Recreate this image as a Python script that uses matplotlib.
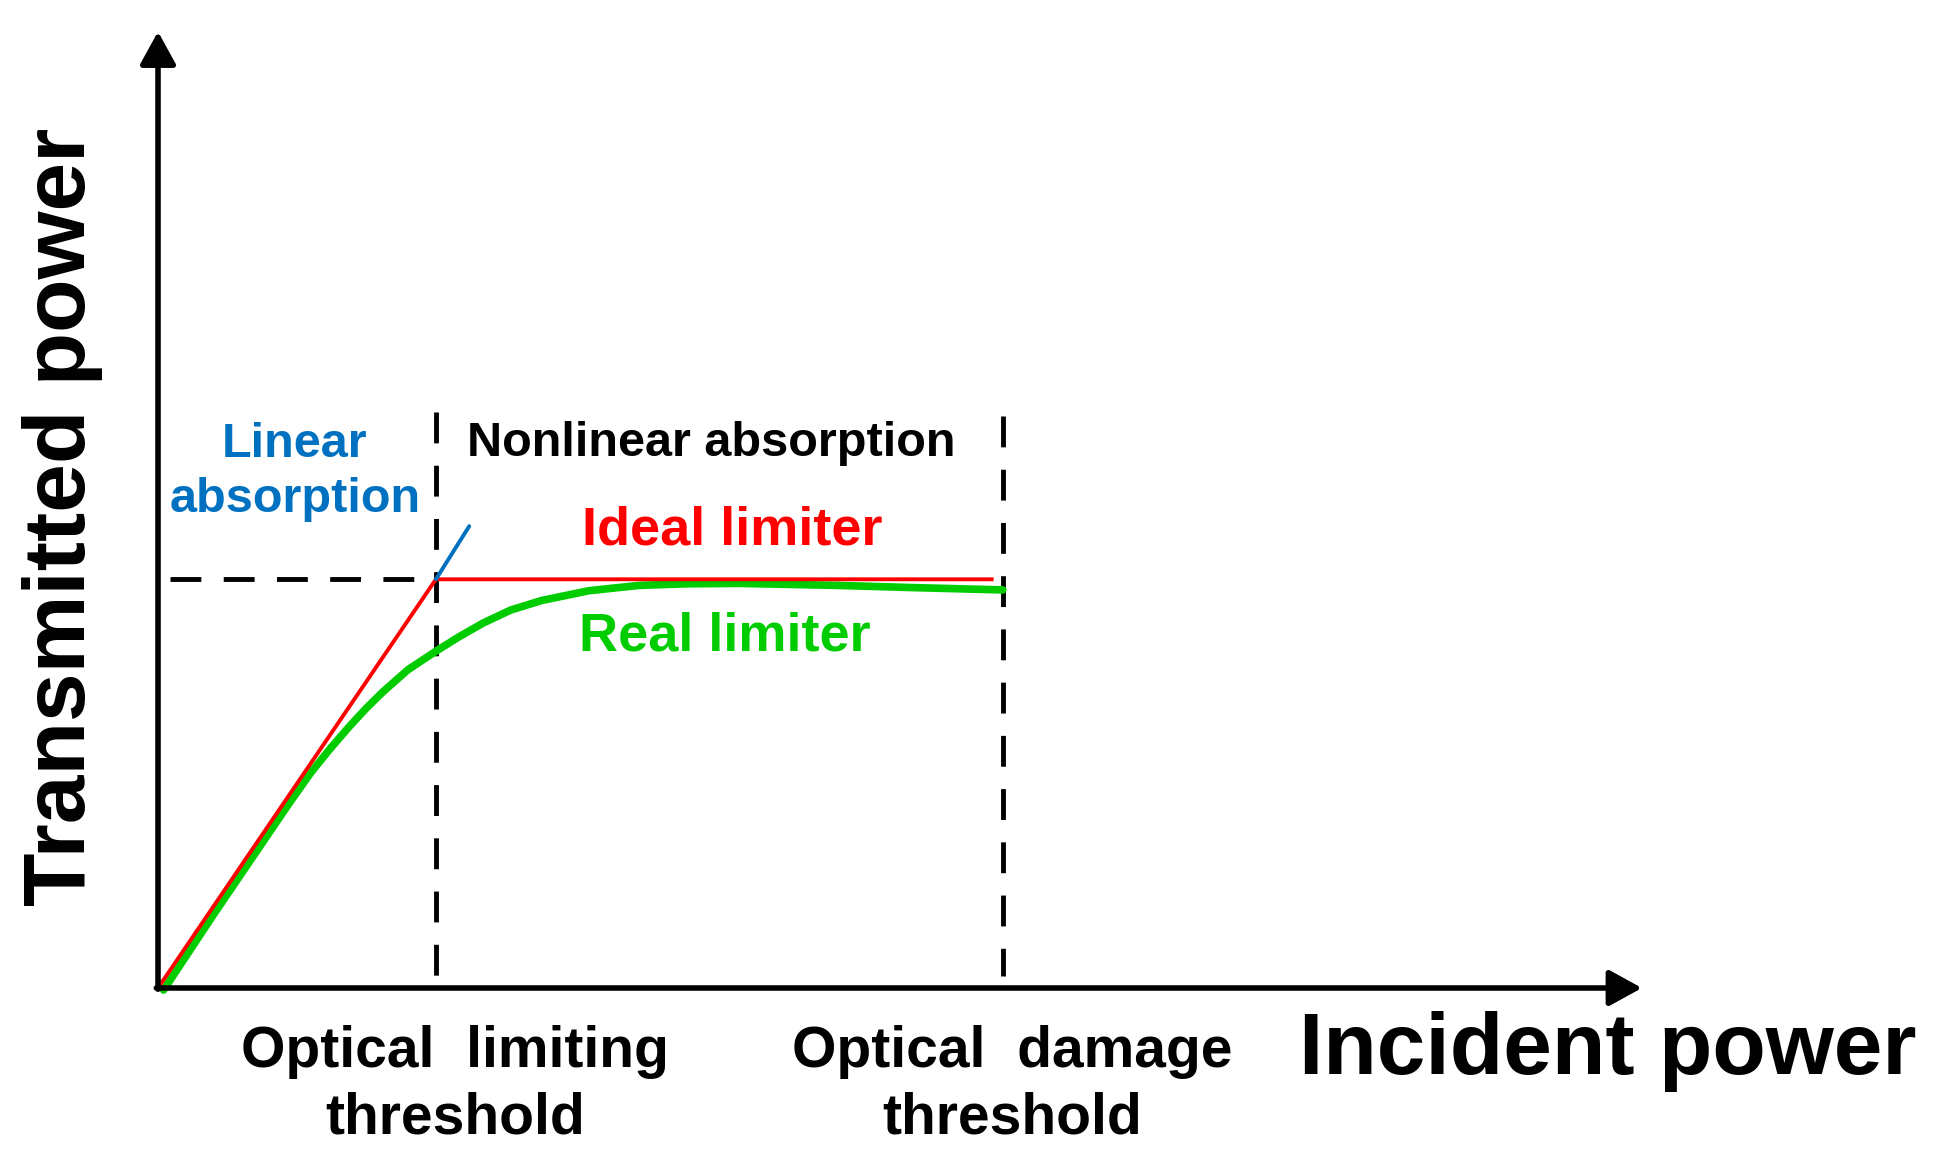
import matplotlib
matplotlib.use('Agg')
import matplotlib.pyplot as plt

# data (incident power in units of the limiting threshold)
ideal_x = [0.0, 1.0, 3.0]
ideal_y = [0.0, 1.0, 1.0]

real_x = [0.02, 0.2, 0.4, 0.475, 0.55, 0.62, 0.69, 0.75, 0.81, 0.9, 1.0, 1.08,
          1.17, 1.27, 1.38, 1.55, 1.73, 1.9, 2.09, 2.45, 2.70, 3.04]
real_y = [-0.005, 0.18, 0.38, 0.455, 0.527, 0.586, 0.641, 0.685, 0.725, 0.779,
          0.824, 0.858, 0.893, 0.925, 0.948, 0.972, 0.985, 0.989, 0.990, 0.985,
          0.980, 0.974]

linear_x = [1.0, 1.12]
linear_y = [1.0, 1.13]

limiting_threshold = 1.0
damage_threshold = 3.04
clamp_level = 1.0

plt.rcParams['font.family'] = ['Liberation Sans', 'DejaVu Sans']

fig = plt.figure(figsize=(19.54, 11.76), dpi=100)
ax = fig.add_axes([0, 0, 1, 1])
ax.set_xlim(-0.5686, 6.463)
ax.set_ylim(-0.46, 2.4174)
ax.axis('off')

# axes with arrow heads
arrow = dict(arrowstyle='-|>,head_length=1.0,head_width=0.55', color='black',
             lw=4, mutation_scale=20, shrinkA=0, shrinkB=0)
ax.annotate('', xy=(0, 2.34), xytext=(0, -0.003), arrowprops=arrow)
ax.annotate('', xy=(5.34, 0), xytext=(-0.006, 0), arrowprops=arrow)

# dashed guides
dash = dict(color='black', lw=3.5, dashes=(6.35, 4.6))
ax.plot([0.043, 0.925], [clamp_level, clamp_level], **dash)
ax.plot([limiting_threshold, limiting_threshold], [1.41, 0.03], **dash)
ax.plot([damage_threshold, damage_threshold], [1.40, 0.03], **dash)

# curves
ax.plot(real_x, real_y, color='#00CC00', lw=5.5, solid_capstyle='round',
        solid_joinstyle='round')
ax.plot(ideal_x, ideal_y, color='#FF0000', lw=2.8)
ax.plot(linear_x, linear_y, color='#0070C0', lw=2.8, solid_capstyle='round')

# labels
ax.text(-0.344, 1.152, 'Transmitted power', rotation=90, ha='center', va='center',
        fontsize=63, fontweight='bold')
ax.text(5.216, -0.2104, 'Incident power', ha='center', va='baseline',
        fontsize=63, fontweight='bold')
ax.text(1.069, -0.238, 'Optical  limiting\nthreshold', ha='center', va='center',
        fontsize=41, fontweight='bold', linespacing=1.32)
ax.text(3.073, -0.238, 'Optical  damage\nthreshold', ha='center', va='center',
        fontsize=41, fontweight='bold', linespacing=1.32)
ax.text(0.493, 1.262, 'Linear\nabsorption', ha='center', va='center',
        fontsize=35, fontweight='bold', color='#0070C0', linespacing=1.3)
ax.text(1.992, 1.332, 'Nonlinear absorption', ha='center', va='center',
        fontsize=35, fontweight='bold')
ax.text(2.068, 1.119, 'Ideal limiter', ha='center', va='center',
        fontsize=39, fontweight='bold', color='#FF0000')
ax.text(2.041, 0.860, 'Real limiter', ha='center', va='center',
        fontsize=39, fontweight='bold', color='#00CC00')

fig.savefig('out.png', dpi=100, facecolor='white')
